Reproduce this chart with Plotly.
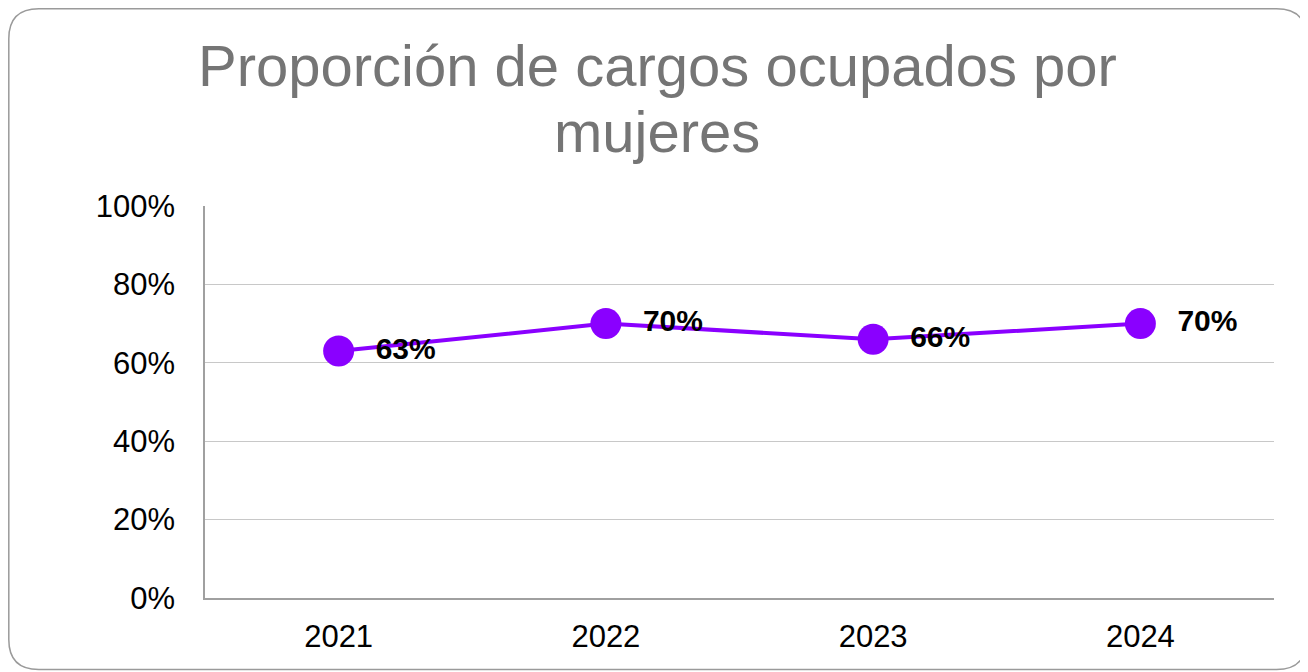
import plotly.graph_objects as go

years = ["2021", "2022", "2023", "2024"]
share = [0.63, 0.70, 0.66, 0.70]
labels = ["63%", "70%", "66%", "70%"]
y_ticks = [0, 0.2, 0.4, 0.6, 0.8, 1.0]
y_tick_text = ["0%", "20%", "40%", "60%", "80%", "100%"]
title_lines = ["Proporción de cargos ocupados por", "mujeres"]

# page body has 8px margin; figure sized to fit in the 1308x672 window
OFF = 8
W, H = 1308 - OFF, 672 - OFF
# plot area in page pixels: left 205, right 1274, top 206, bottom 598
ML, MR, MT, MB = 205 - OFF, 1308 - 1274, 206 - OFF, 672 - 598
PW, PH = W - ML - MR, H - MT - MB

def px(x):  # page pixel -> paper
    return (x - OFF - ML) / PW

def py(y):
    return (OFF + MT + PH - y) / PH

purple = "#8A00FF"
font_family = "Liberation Sans, Arial, sans-serif"

fig = go.Figure()
fig.add_trace(go.Scatter(
    x=years, y=share, mode="lines+markers+text",
    text=["  " + t for t in labels], textposition="middle right",
    textfont=dict(family=font_family, size=30, color="#000000", weight="bold"),
    line=dict(color=purple, width=4),
    marker=dict(color=purple, size=31),
    cliponaxis=False, showlegend=False, hoverinfo="skip",
))

# rounded border
x0, x1, y0, y1, r = 8.8, 1306.5, 8.8, 669.5, 30
path = (f"M {px(x0+r)},{py(y0)} L {px(x1-r)},{py(y0)} Q {px(x1)},{py(y0)} {px(x1)},{py(y0+r)} "
        f"L {px(x1)},{py(y1-r)} Q {px(x1)},{py(y1)} {px(x1-r)},{py(y1)} "
        f"L {px(x0+r)},{py(y1)} Q {px(x0)},{py(y1)} {px(x0)},{py(y1-r)} "
        f"L {px(x0)},{py(y0+r)} Q {px(x0)},{py(y0)} {px(x0+r)},{py(y0)} Z")
fig.add_shape(type="path", path=path, xref="paper", yref="paper",
              line=dict(color="#9a9a9a", width=1.5), layer="above")

fig.add_annotation(text=title_lines[0], x=px(657), y=py(65), xref="paper", yref="paper",
                   xanchor="center", yanchor="middle", showarrow=False,
                   font=dict(family=font_family, size=58, color="#757575"))
fig.add_annotation(text=title_lines[1], x=px(657), y=py(131), xref="paper", yref="paper",
                   xanchor="center", yanchor="middle", showarrow=False,
                   font=dict(family=font_family, size=58, color="#757575"))

fig.update_layout(
    width=W, height=H,
    margin=dict(l=ML, r=MR, t=MT, b=MB, autoexpand=False),
    paper_bgcolor="white", plot_bgcolor="white",
    font=dict(family=font_family, color="#000000"),
)
fig.update_xaxes(
    type="category", range=[-0.5, 3.5], showgrid=False,
    showline=True, linecolor="#a0a0a0", linewidth=1.5,
    tickfont=dict(size=31, color="#000000"), ticks="", ticklabelstandoff=10,
)
fig.update_yaxes(
    range=[0, 1], tickvals=y_ticks, ticktext=y_tick_text,
    showgrid=True, gridcolor="#c8c8c8", gridwidth=1.2,
    showline=True, linecolor="#a0a0a0", linewidth=1.5, zeroline=False,
    tickfont=dict(size=31, color="#000000"), ticks="", ticklabelstandoff=22,
)

fig.write_html("out.html")
